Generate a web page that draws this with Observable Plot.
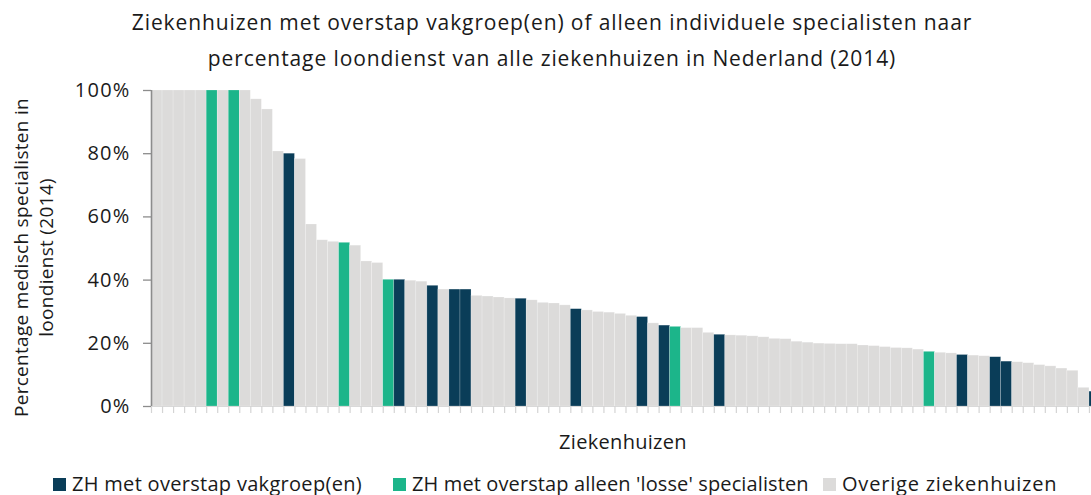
<!DOCTYPE html>
<html>
<head>
<meta charset="utf-8">
<script src="https://cdn.jsdelivr.net/npm/d3@7"></script>
<script src="https://cdn.jsdelivr.net/npm/@observablehq/plot@0.6"></script>
<style>
  body { margin:0; width:1091px; height:495px; overflow:hidden; position:relative; background:#fff; font-family:"Open Sans", sans-serif; color:#1a1a1a; }
  #title { position:absolute; top:4px; left:0; width:1104px; text-align:center; font-size:21px; letter-spacing:0.9px; line-height:36px; }
  #chart { position:absolute; top:75px; left:0; width:1100px; }
  #chart svg { max-width:none !important; }
  .leg { position:absolute; top:472px; font-size:20px; line-height:24px; white-space:nowrap; display:flex; align-items:center; }
  .sw { width:13px; height:13px; margin-right:6px; display:inline-block; }
  #chart svg g[aria-label="y-axis tick label"] text { letter-spacing:1.2px; }
</style>
</head>
<body>
<div id="title">Ziekenhuizen met overstap vakgroep(en) of alleen individuele specialisten naar<br>percentage loondienst van alle ziekenhuizen in Nederland (2014)</div>
<div id="chart"></div>
<div id="legend"></div>
<script>
// Share of medical specialists employed (loondienst), per hospital, sorted
const values = [
  1.00, 1.00, 1.00, 1.00, 1.00, 1.00, 1.00, 1.00, 1.00, 0.972,
  0.940, 0.807, 0.800, 0.783, 0.576, 0.526, 0.521, 0.518, 0.509, 0.459,
  0.454, 0.401, 0.401, 0.398, 0.395, 0.382, 0.370, 0.370, 0.370, 0.350,
  0.348, 0.345, 0.342, 0.341, 0.336, 0.328, 0.326, 0.320, 0.308, 0.304,
  0.299, 0.297, 0.293, 0.287, 0.283, 0.263, 0.256, 0.252, 0.248, 0.248,
  0.233, 0.227, 0.225, 0.224, 0.222, 0.219, 0.214, 0.213, 0.205, 0.202,
  0.199, 0.198, 0.197, 0.197, 0.193, 0.191, 0.188, 0.185, 0.184, 0.180,
  0.173, 0.170, 0.168, 0.163, 0.161, 0.159, 0.156, 0.142, 0.140, 0.137,
  0.131, 0.127, 0.120, 0.113, 0.059, 0.047
];
// Group per hospital: V = overstap vakgroep(en), L = alleen 'losse' specialisten, O = overige
const groups = (
  "OOOOOLOLOO" +
  "OOVOOOOLOO" +
  "OLVOOVOVVO" +
  "OOOVOOOOVO" +
  "OOOOVOVLOO" +
  "OVOOOOOOOO" +
  "OOOOOOOOOO" +
  "LOOVOOVVOO" +
  "OOOOOV"
).split("");
const groupKeys = ["V", "L", "O"];
const groupLabels = ["ZH met overstap vakgroep(en)", "ZH met overstap alleen 'losse' specialisten", "Overige ziekenhuizen"];
const groupColors = ["#0a3d58", "#1cb58a", "#dcdbda"];
const yTicks = [0, 0.2, 0.4, 0.6, 0.8, 1.0];
const yTitle = "Percentage medisch specialisten in\nloondienst (2014)";
const xTitle = "Ziekenhuizen";

const data = values.map((v, i) => ({i, v, g: groups[i]}));
const n = values.length;

const chart = Plot.plot({
  width: 1100,
  height: 376,
  marginLeft: 151,
  marginRight: 0,
  marginTop: 15,
  marginBottom: 45,
  style: {fontFamily: "'Open Sans', sans-serif", fontSize: "20px", color: "#1a1a1a", background: "transparent", overflow: "visible"},
  x: {domain: [0, n], axis: null},
  y: {domain: [0, 1], axis: null},
  color: {domain: groupKeys, range: groupColors},
  marks: [
    Plot.rectY(data, {x1: "i", x2: d => d.i + 1, y: "v", fill: "g", stroke: "#ffffff", strokeOpacity: 0.35, strokeWidth: 0.6}),
    Plot.ruleY([0], {stroke: "#d9d9d9", strokeWidth: 1}),
    Plot.axisX({ticks: d3.range(0, n + 1), tickSize: 7, tickFormat: () => "", stroke: "#d4d4d4", strokeWidth: 1.2, label: null}),
    Plot.axisY({ticks: yTicks, tickFormat: d3.format(".0%"), tickSize: 8, tickPadding: 13, stroke: "#8c8c8c", strokeWidth: 1.3, label: null, fontSize: 20, fill: "#1a1a1a"}),
    Plot.ruleX([0], {stroke: "#8c8c8c", strokeWidth: 1.6}),
    Plot.text([yTitle], {frameAnchor: "left", textAnchor: "middle", lineAnchor: "middle", rotate: -90, dx: -119, dy: 9, lineHeight: 1.32, fontSize: 19, fill: "#1a1a1a"}),
    Plot.text([xTitle], {frameAnchor: "bottom", lineAnchor: "middle", dy: 36, dx: -3, fontSize: 20, fill: "#1a1a1a"})
  ]
});
chart.style.maxWidth = "none";
chart.querySelectorAll("text").forEach(t => {
  const txt = t.textContent;
  if (txt.startsWith("Percentage") || txt.startsWith("loondienst")) t.style.letterSpacing = "0.3px";
  if (txt === xTitle) t.style.letterSpacing = "0.3px";
});
document.getElementById("chart").appendChild(chart);

const legLefts = [53, 393, 823];
const legSpacing = [0.3, 0.12, 0.8];
const legend = document.getElementById("legend");
groupKeys.forEach((k, j) => {
  const d = document.createElement("div");
  d.className = "leg";
  d.style.left = legLefts[j] + "px";
  d.style.letterSpacing = legSpacing[j] + "px";
  d.innerHTML = `<span class="sw" style="background:${groupColors[j]}"></span><span>${groupLabels[j]}</span>`;
  legend.appendChild(d);
});
</script>
</body>
</html>
